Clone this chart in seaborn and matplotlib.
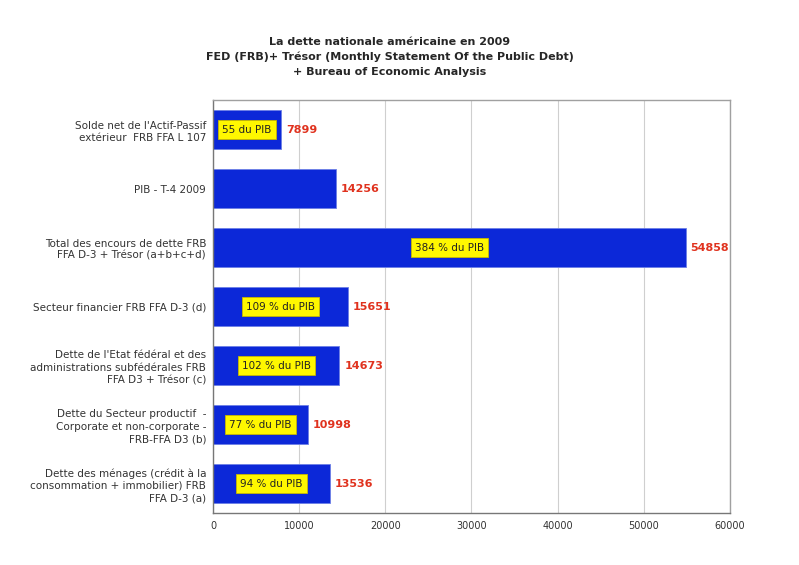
import matplotlib
import matplotlib.pyplot as plt
import numpy as np
import pandas as pd
import seaborn as sns
from matplotlib.ticker import FixedLocator

matplotlib.use("Agg")

# Données (milliards de dollars)
categories = [
    "Solde net de l'Actif-Passif\nextérieur  FRB FFA L 107",
    "PIB - T-4 2009",
    "Total des encours de dette FRB\nFFA D-3 + Trésor (a+b+c+d)",
    "Secteur financier FRB FFA D-3 (d)",
    "Dette de l'Etat fédéral et des\nadministrations subfédérales FRB\nFFA D3 + Trésor (c)",
    "Dette du Secteur productif  -\nCorporate et non-corporate -\nFRB-FFA D3 (b)",
    "Dette des ménages (crédit à la\nconsommation + immobilier) FRB\nFFA D-3 (a)",
]
values = [7899, 14256, 54858, 15651, 14673, 10998, 13536]
pct_labels = ["55 du PIB", None, "384 % du PIB", "109 % du PIB",
              "102 % du PIB", "77 % du PIB", "94 % du PIB"]
xticks = [0, 10000, 20000, 30000, 40000, 50000, 60000]

title = ("La dette nationale américaine en 2009\n"
         "FED (FRB)+ Trésor (Monthly Statement Of the Public Debt)\n"
         "+ Bureau of Economic Analysis")

sns.set_style("white")
plt.rcParams["font.family"] = ["DejaVu Sans"]

df = pd.DataFrame({"cat": categories, "val": values})

fig = plt.figure(figsize=(7.99, 5.65), dpi=100)
ax = fig.add_axes([0.2666, 0.092, 0.647, 0.731])

sns.barplot(data=df, y="cat", x="val", orient="h", order=categories,
            color="#0C28D8", saturation=1, width=0.66,
            edgecolor="#6C7FE6", linewidth=0.6, ax=ax)

ax.set_xlim(0, 60000)
ax.set_ylim(len(categories) - 0.5, -0.5)
ax.set_xticks(xticks)
ax.set_xticklabels([str(t) for t in xticks], fontsize=7, color="#333333")
ax.set_xlabel("")
ax.set_ylabel("")
ax.xaxis.grid(True, color="#CFCFCF", linewidth=0.8)
ax.set_axisbelow(True)

ax.tick_params(axis="y", which="major", length=0, pad=5, labelsize=7.5,
               labelcolor="#333333")
for lab in ax.get_yticklabels():
    lab.set_linespacing(1.3)
ax.yaxis.set_minor_locator(FixedLocator(np.arange(-0.5, len(categories), 1)))
ax.tick_params(axis="y", which="minor", length=4, color="#888888", width=0.8)
ax.tick_params(axis="x", which="major", length=4, color="#888888", width=0.8,
               pad=2)

for side in ["left", "bottom"]:
    ax.spines[side].set_color("#777777")
    ax.spines[side].set_linewidth(1.0)
for side in ["top", "right"]:
    ax.spines[side].set_color("#A0A0A0")
    ax.spines[side].set_linewidth(1.0)

for i, (v, p) in enumerate(zip(values, pct_labels)):
    ax.annotate(str(v), xy=(v, i), xytext=(3.5, 0), textcoords="offset points",
                va="center", ha="left", fontsize=8, fontweight="bold",
                color="#E0321E")
    if p:
        ax.text(v / 2, i, p, ha="center", va="center", fontsize=7.5,
                color="#222222",
                bbox=dict(boxstyle="square,pad=0.4", fc="#FFF700",
                          ec="#C9B800", lw=0.6))

fig.text(0.488, 0.935, title, ha="center", va="top", fontsize=8,
         fontweight="bold", linespacing=1.6)

fig.savefig("out.png", dpi=100, facecolor="white")
